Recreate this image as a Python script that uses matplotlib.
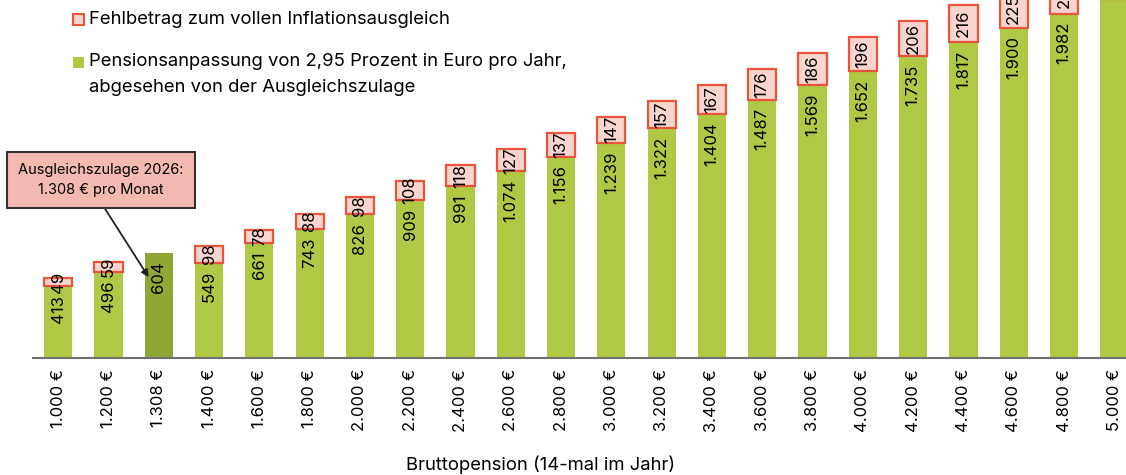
import matplotlib
matplotlib.use("Agg")
import matplotlib.pyplot as plt
from matplotlib.patches import Rectangle

plt.rcParams['font.family'] = ['Inter', 'DejaVu Sans']

# Data
pensions = [1000, 1200, 1308, 1400, 1600, 1800, 2000, 2200, 2400, 2600, 2800,
            3000, 3200, 3400, 3600, 3800, 4000, 4200, 4400, 4600, 4800, 5000]
increase = [413, 496, 604, 549, 661, 743, 826, 909, 991, 1074, 1156,
            1239, 1322, 1404, 1487, 1569, 1652, 1735, 1817, 1900, 1982, 2065]
gap = [49, 59, 0, 98, 78, 88, 98, 108, 118, 127, 137,
       147, 157, 167, 176, 186, 196, 206, 216, 225, 235, 245]
tick_labels = [f"{p:,}".replace(",", ".") + " €" for p in pensions]

GREEN = "#afc944"
DARK_GREEN = "#8fa735"
RED_EDGE = "#e8553c"
RED_FACE = "#f8d4ce"

W, H = 1126, 475
fig = plt.figure(figsize=(W / 100, H / 100), dpi=100)
ax = fig.add_axes([33 / W, (H - 358) / H, (W - 33) / W, 358 / H])

x = list(range(len(pensions)))
colors = [DARK_GREEN if p == 1308 else GREEN for p in pensions]
ax.bar(x, increase, width=0.56, color=colors, zorder=2)
ax.bar(x, gap, bottom=increase, width=0.56, color=RED_FACE,
       edgecolor=[RED_EDGE if g > 0 else "none" for g in gap], linewidth=1.6, zorder=3)

def fmt(v):
    return f"{v:,}".replace(",", ".")

for i in x:
    ax.annotate(fmt(increase[i]), (i, increase[i]), xytext=(0, -6),
                textcoords="offset points", rotation=90, ha="center", va="top",
                fontsize=12, zorder=5)
    if gap[i] > 0:
        ax.text(i, increase[i] + gap[i] / 2, fmt(gap[i]), rotation=90,
                ha="center", va="center", fontsize=12, zorder=5)

ax.set_xlim(-0.5, (W - 58) / 50.3)
ax.set_ylim(0, 2060)
ax.set_xticks(x)
ax.set_xticklabels(tick_labels, rotation=90, fontsize=12)
ax.tick_params(axis="x", length=0, pad=8)
ax.set_yticks([])
for s in ["top", "right", "left"]:
    ax.spines[s].set_visible(False)
ax.spines["bottom"].set_color("#707070")
ax.spines["bottom"].set_linewidth(1.5)

# Annotation for Ausgleichszulage
ax.annotate("Ausgleichszulage 2026:\n1.308 € pro Monat", xy=(1.8, 465),
            xytext=(101, H - 180), textcoords="figure pixels",
            ha="center", va="center", fontsize=10.5, linespacing=1.6,
            bbox=dict(boxstyle="square,pad=0.75", fc="#f4b9b0", ec="#333333", lw=1.5),
            arrowprops=dict(arrowstyle="-|>", color="#222222", lw=1.3,
                            relpos=(0.48, 0), shrinkA=0, shrinkB=0),
            zorder=6)

# Legend (drawn by hand to keep the handle on the first text line)
fig.patches.append(Rectangle((73 / W, 1 - 25 / H), 11 / W, 11 / H, transform=fig.transFigure,
                             facecolor=RED_FACE, edgecolor=RED_EDGE, linewidth=1.5))
fig.patches.append(Rectangle((73 / W, 1 - 68 / H), 11 / W, 11 / H, transform=fig.transFigure,
                             facecolor=GREEN, edgecolor="none"))
fig.text(89 / W, 1 - 20 / H, "Fehlbetrag zum vollen Inflationsausgleich",
         ha="left", va="center", fontsize=13.3)
fig.text(89 / W, 1 - 53 / H,
         "Pensionsanpassung von 2,95 Prozent in Euro pro Jahr,\nabgesehen von der Ausgleichszulage",
         ha="left", va="top", fontsize=13.3, linespacing=1.7)

fig.text(541 / W, (H - 465) / H, "Bruttopension (14-mal im Jahr)",
         ha="center", va="center", fontsize=13.3)

fig.savefig("out.png", dpi=100)
